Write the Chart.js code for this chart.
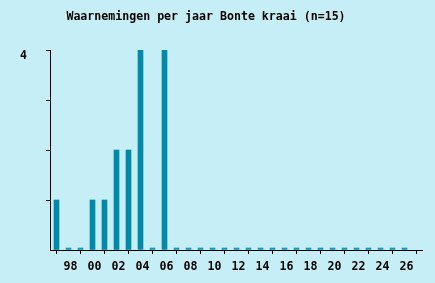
<!DOCTYPE html>
<html>
<head>
<meta charset="utf-8">
<script src="https://cdn.jsdelivr.net/npm/chart.js@4/dist/chart.umd.min.js"></script>
<style>
    html, body { margin: 0; padding: 0; background: #c6eef7; }
    #wrap { width: 435px; height: 283px; position: relative; }
</style>
</head>
<body>
<div id="wrap"><canvas id="chart"></canvas></div>
<script>
const chartTitle = 'Waarnemingen per jaar Bonte kraai (n=15)';
const years = [1997, 1998, 1999, 2000, 2001, 2002, 2003, 2004, 2005, 2006,
               2007, 2008, 2009, 2010, 2011, 2012, 2013, 2014, 2015, 2016,
               2017, 2018, 2019, 2020, 2021, 2022, 2023, 2024, 2025, 2026];
const counts = [1, 0, 0, 1, 1, 2, 2, 4, 0, 4,
                0, 0, 0, 0, 0, 0, 0, 0, 0, 0,
                0, 0, 0, 0, 0, 0, 0, 0, 0, 0];
const xTickYears = [1998, 2000, 2002, 2004, 2006, 2008, 2010, 2012, 2014, 2016,
                    2018, 2020, 2022, 2024, 2026];
const yTickLabels = { 4: '4' };

const monoFont = { family: '"DejaVu Sans Mono", monospace', size: 11.6, weight: 'bold' };

// title is drawn by hand so it can sit left of centre like the original
const titlePlugin = {
    id: 'plainTitle',
    afterDraw(chart) {
        const ctx = chart.ctx;
        ctx.save();
        ctx.font = 'bold 11.6px "DejaVu Sans Mono", monospace';
        ctx.fillStyle = '#000';
        ctx.textAlign = 'center';
        ctx.textBaseline = 'middle';
        ctx.fillText(chartTitle, 206, 17);
        ctx.restore();
    }
};

// half a pixel shift keeps the 5px bars on whole pixels
const xMin = 1996.5 - 0.5 / 12;

new Chart(document.getElementById('chart'), {
    type: 'bar',
    data: {
        datasets: [{
            data: years.map((y, i) => ({ x: y, y: counts[i] })),
            backgroundColor: ctx => (ctx.raw && ctx.raw.y === 0) ? '#1898b8' : '#0088a8',
            barThickness: 5,
            minBarLength: 2,
            borderWidth: 0
        }]
    },
    options: {
        responsive: true,
        maintainAspectRatio: false,
        animation: false,
        layout: { padding: { top: 50, right: 13, bottom: 0, left: 0 } },
        plugins: {
            legend: { display: false },
            tooltip: { enabled: false },
            title: { display: false }
        },
        scales: {
            x: {
                type: 'linear',
                offset: false,
                min: xMin,
                max: xMin + 31,
                afterBuildTicks: scale => {
                    scale.ticks = xTickYears.map(v => ({ value: v }));
                },
                afterFit: scale => { scale.height = 33; },
                grid: { drawOnChartArea: false, drawTicks: true, tickLength: 4, color: '#000' },
                border: { display: true, color: '#000', width: 1 },
                ticks: {
                    autoSkip: false,
                    maxRotation: 0,
                    padding: 6,
                    labelOffset: 2,
                    color: '#000',
                    font: monoFont,
                    callback: v => String(v % 100).padStart(2, '0')
                }
            },
            y: {
                min: 0,
                max: 4,
                afterFit: scale => { scale.width = 50; },
                grid: {
                    drawOnChartArea: false,
                    drawTicks: true,
                    tickLength: 4,
                    color: ctx => ctx.tick && ctx.tick.value === 0 ? 'rgba(0,0,0,0)' : '#000'
                },
                border: { display: true, color: '#000', width: 1 },
                ticks: {
                    stepSize: 1,
                    padding: 19,
                    labelOffset: 6,
                    color: '#000',
                    font: monoFont,
                    callback: v => yTickLabels[v] || ''
                }
            }
        }
    },
    plugins: [titlePlugin]
});
</script>
</body>
</html>
